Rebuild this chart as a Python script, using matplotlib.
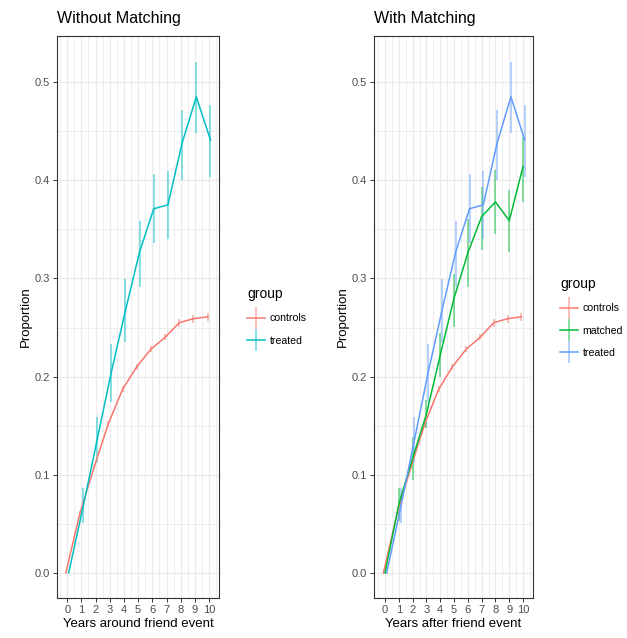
import matplotlib
matplotlib.use("Agg")
import matplotlib.pyplot as plt
from matplotlib.lines import Line2D
from matplotlib.ticker import MultipleLocator
import numpy as np

plt.rcParams["font.family"] = ["Liberation Sans", "DejaVu Sans"]

years = np.arange(11)

controls = [0, 0.061, 0.108, 0.152, 0.187, 0.210, 0.228, 0.240, 0.255, 0.259, 0.261]
controls_err = [0, 0.002, 0.002, 0.003, 0.003, 0.003, 0.003, 0.003, 0.004, 0.004, 0.004]

treated = [0, 0.066, 0.135, 0.204, 0.267, 0.327, 0.371, 0.375, 0.438, 0.485, 0.441]
treated_lo = [0, 0.051, 0.112, 0.174, 0.235, 0.291, 0.336, 0.340, 0.400, 0.448, 0.403]
treated_hi = [0, 0.087, 0.159, 0.233, 0.299, 0.359, 0.406, 0.409, 0.472, 0.521, 0.477]

matched = [0, 0.070, 0.117, 0.162, 0.222, 0.280, 0.326, 0.363, 0.378, 0.359, 0.414]
matched_lo = [0, 0.053, 0.095, 0.148, 0.200, 0.251, 0.291, 0.329, 0.345, 0.327, 0.378]
matched_hi = [0, 0.087, 0.139, 0.176, 0.244, 0.305, 0.361, 0.393, 0.411, 0.390, 0.444]

RED = "#F8766D"
CYAN = "#00BFC4"
GREEN = "#00BA38"
BLUE = "#619CFF"

W, H = 627, 638
fig = plt.figure(figsize=(W / 100, H / 100), dpi=100)


def box(l, r, t, b):
    return [l / W, (H - b) / H, (r - l) / W, (b - t) / H]


def style(ax, title, xlabel, xlim):
    ax.set_xlim(*xlim)
    ax.set_ylim(-0.0255, 0.547)
    ax.xaxis.set_major_locator(MultipleLocator(1))
    ax.xaxis.set_minor_locator(MultipleLocator(0.5))
    ax.yaxis.set_major_locator(MultipleLocator(0.1))
    ax.yaxis.set_minor_locator(MultipleLocator(0.05))
    ax.yaxis.set_major_formatter(lambda v, p: f"{v:.1f}")
    ax.grid(which="major", color="#EBEBEB", lw=0.9, zorder=0)
    ax.grid(which="minor", color="#EBEBEB", lw=0.6, zorder=0)
    ax.set_axisbelow(True)
    ax.tick_params(which="minor", length=0)
    ax.tick_params(which="major", length=3, width=0.7, color="#333333",
                   labelcolor="#4D4D4D", labelsize=8, pad=2)
    for s in ax.spines.values():
        s.set_color("#333333")
        s.set_linewidth(0.8)
    ax.set_title(title, loc="left", fontsize=11.5, pad=9)
    ax.set_xlabel(xlabel, fontsize=9.5, labelpad=2)
    ax.set_ylabel("Proportion", fontsize=9.5, labelpad=2)


def draw(ax, offset, y, lo, hi, color):
    x = years + offset
    ax.vlines(x, lo, hi, color=color, alpha=0.5, lw=1.3, zorder=2)
    ax.plot(x, y, color=color, lw=1.1, zorder=3)


def key(color):
    return Line2D([], [], color=color, lw=1.1, marker="|", markersize=16,
                  markeredgewidth=1.3, markeredgecolor=matplotlib.colors.to_rgba(color, 0.5))


legend_kw = dict(loc="upper left", frameon=False, fontsize=7.6, title_fontsize=10,
                 handlelength=1.7, handletextpad=0.4, labelspacing=1.15,
                 borderpad=0, alignment="left")

# left panel
ax1 = fig.add_axes(box(57, 219, 36, 598))
style(ax1, "Without Matching", "Years around friend event", (-0.72, 10.7))
c_lo = np.array(controls) - np.array(controls_err)
c_hi = np.array(controls) + np.array(controls_err)
draw(ax1, -0.1, controls, c_lo, c_hi, RED)
draw(ax1, 0.1, treated, treated_lo, treated_hi, CYAN)

fig.legend([key(RED), key(CYAN)], ["controls", "treated"], title="group",
           bbox_to_anchor=(242 / W, 1 - 282 / H), **legend_kw)

# right panel
ax2 = fig.add_axes(box(374, 533, 36, 598))
style(ax2, "With Matching", "Years after friend event", (-0.8, 10.72))
draw(ax2, -0.12, controls, c_lo, c_hi, RED)
draw(ax2, 0.0, matched, matched_lo, matched_hi, GREEN)
draw(ax2, 0.12, treated, treated_lo, treated_hi, BLUE)

fig.legend([key(RED), key(GREEN), key(BLUE)], ["controls", "matched", "treated"],
           title="group", bbox_to_anchor=(555 / W, 1 - 272 / H), **legend_kw)

fig.savefig("out.png", dpi=100)
